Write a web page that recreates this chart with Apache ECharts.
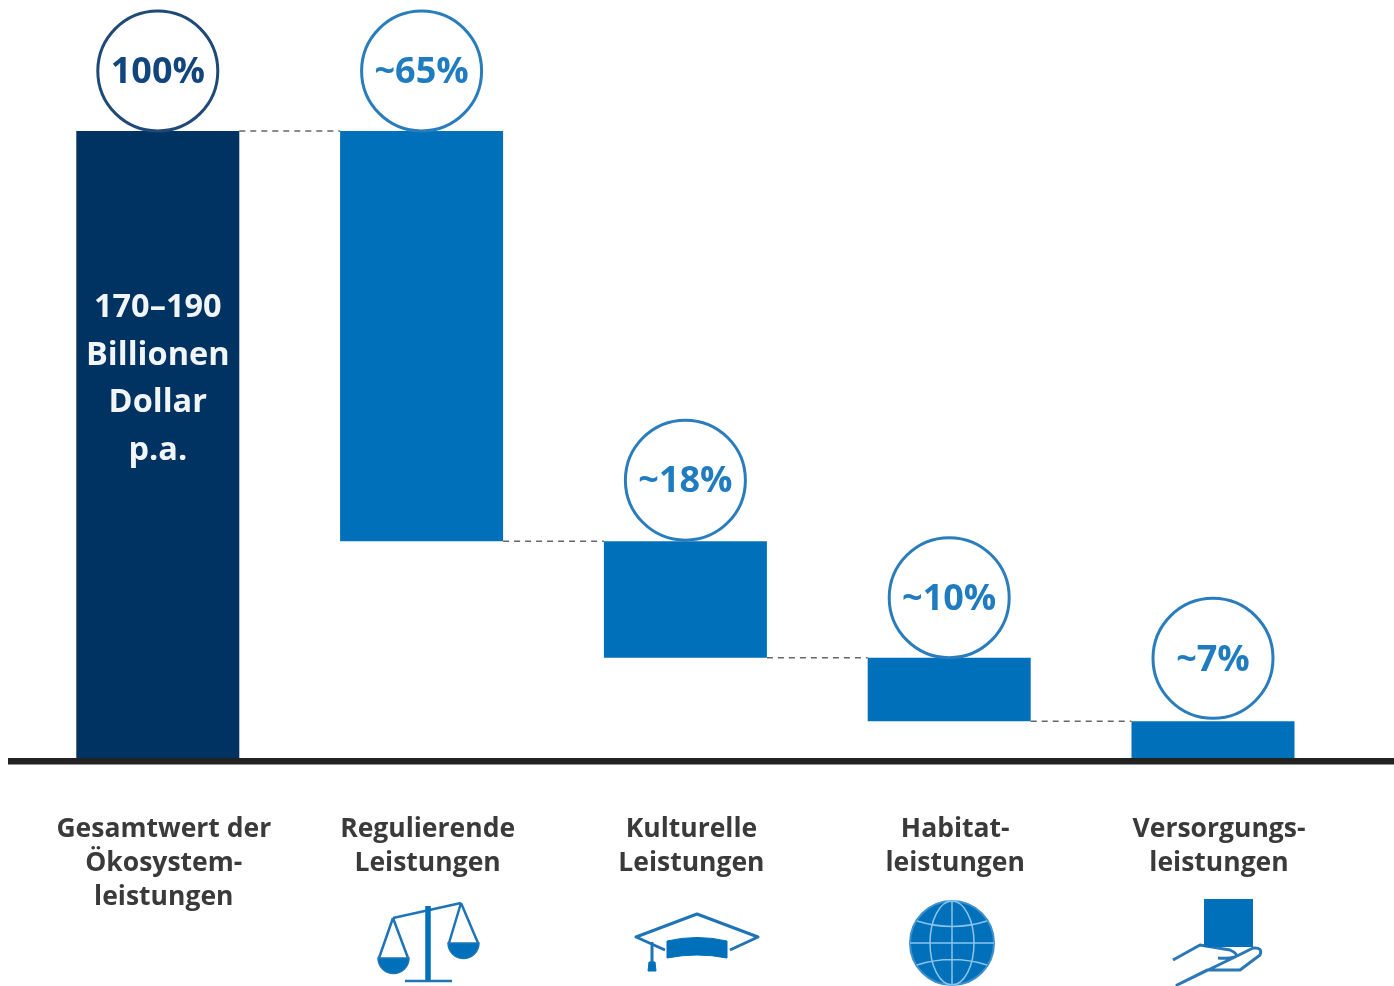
<!DOCTYPE html>
<html><head><meta charset="utf-8">
<style>html,body{margin:0;padding:0;background:#fff}#c{width:1394px;height:986px}</style>
<script src="https://cdn.jsdelivr.net/npm/echarts@6/dist/echarts.min.js"></script>
</head><body><div id="c"></div>
<script>
const categories = ['Gesamtwert der\nÖkosystem-\nleistungen','Regulierende\nLeistungen','Kulturelle\nLeistungen','Habitat-\nleistungen','Versorgungs-\nleistungen'];
const offsets = [0, 34.9, 16.4, 6.3, 0];
const shares = [100, 65.1, 18.5, 10.1, 6.3];
const connectorLevels = [100, 34.9, 16.4, 6.3];
const shareLabels = ['100%','~65%','~18%','~10%','~7%'];
const totalLabel = '170–190\nBillionen\nDollar\np.a.';
const NAVY='#003361', BLUE='#0070BA', FONT='"Open Sans","Noto Sans",sans-serif';
const BAR_W=163;
const circleLift=[60,60,61,60,63];
const chart = echarts.init(document.getElementById('c'),null,{renderer:'canvas'});
const iconStroke = {stroke:'#1E74B6',fill:'none',lineWidth:3,lineJoin:'round'};
let iconCount=0;
const path=(d,style,z)=>{const name='icon'+(iconCount++);echarts.graphic.registerShape(name,echarts.graphic.extendPath(d,{}));return {type:name,style,z:z||20};};
const gridLine='#8CC4EC';
chart.setOption({
  animation:false,
  backgroundColor:'#fff',
  grid:{left:25.9,width:1319,top:131,bottom:225},
  xAxis:{type:'category',data:categories,axisLine:{show:false},axisTick:{show:false},
    axisLabel:{interval:0,margin:51,padding:[0,0,0,12],fontFamily:FONT,fontWeight:'bold',fontSize:26.5,lineHeight:34,color:'#3a3a3a',align:'center'}},
  yAxis:{type:'value',min:0,max:100,show:false,splitLine:{show:false}},
  series:[
    {type:'custom',z:1,silent:true,clip:false,
     data:connectorLevels.map((v,i)=>[i,v]),
     encode:{x:0,y:1},
     renderItem:(params,api)=>{
       const i=api.value(0), p=api.coord([i,api.value(1)]), q=api.coord([i+1,api.value(1)]);
       return {type:'line',shape:{x1:p[0]+BAR_W/2,y1:p[1],x2:q[0]-BAR_W/2,y2:p[1]},
         style:{stroke:'#666',lineWidth:1.5,lineDash:[6,5],fill:null}};
     }},
    {type:'bar',stack:'w',data:offsets,barWidth:BAR_W,z:2,itemStyle:{color:'transparent'}},
    {type:'bar',stack:'w',barWidth:BAR_W,z:3,
     data:shares.map((v,i)=>({value:v,itemStyle:{color:i===0?NAVY:BLUE},
       label:i===0?{show:true,formatter:totalLabel,position:['50%',153],align:'center',color:'#F2F5F8',fontFamily:FONT,fontWeight:'bold',fontSize:32.5,lineHeight:47.5}:{show:false}}))},
    {type:'scatter',z:5,clip:false,symbol:'circle',symbolSize:120,
     data:shares.map((v,i)=>({value:[i,offsets[i]+v],symbolOffset:[0,-circleLift[i]],
       itemStyle:{opacity:1,color:'#fff',borderColor:i===0?'#1F4A78':'#2A7DBD',borderWidth:3},
       label:{show:true,position:'inside',offset:[0,2],formatter:shareLabels[i],color:i===0?'#12457C':'#1F7CC0',fontFamily:FONT,fontWeight:'bold',fontSize:36}}))}
  ],
  graphic:[
    {type:'rect',shape:{x:8,y:758,width:1386,height:6.5},style:{fill:'#222'},z:10},
    // scales
    path('M405 981H452M393 918L461 903M393 918L379 958M393 918L408 958M461 903L449 943M461 903L478 943',{...iconStroke,lineWidth:2.5}),
    path('M428 906V980',{stroke:BLUE,fill:'none',lineWidth:5.5}),
    path('M378 958H409A15.5 15.5 0 0 1 378 958ZM448 943H479A15.5 15.5 0 0 1 448 943Z',{fill:BLUE,stroke:'#1E74B6',lineWidth:1.5}),
    // cap
    path('M665 950L636 937L697 914L758 937L730 950M652 942V962',iconStroke),
    path('M667 941Q697 934 727 941V958Q697 952 667 958ZM649 962H655L656 971H648Z',{fill:BLUE,stroke:BLUE,lineWidth:1}),
    // globe
    {type:'circle',shape:{cx:952,cy:943,r:42},style:{fill:BLUE,stroke:'#3E90CC',lineWidth:2},z:20},
    path('M952 901V985M910 943H994M917 921Q952 932 987 921M917 965Q952 954 987 965',{stroke:gridLine,fill:'none',lineWidth:1.5}),
    {type:'ellipse',shape:{cx:952,cy:943,rx:22,ry:42},style:{stroke:gridLine,fill:'none',lineWidth:1.5},z:21},
    // hand and box
    path('M1173 960L1200 945L1230 950Q1239 954 1235 957Q1228 959 1218 958M1235 957L1253 948Q1263 947 1260 955L1240 970L1207 970L1177 985Z',{stroke:'#2A78B6',fill:'#fff',lineWidth:3,lineJoin:'round'},20),
    {type:'rect',shape:{x:1204,y:899,width:49,height:48},style:{fill:BLUE},z:21}
  ]
});
</script></body></html>
